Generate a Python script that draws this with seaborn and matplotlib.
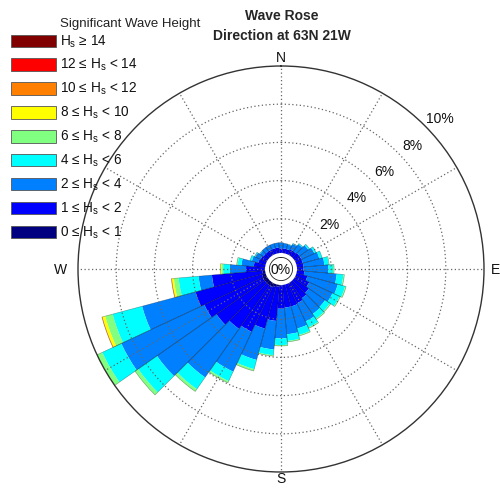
import numpy as np
import pandas as pd
import matplotlib
matplotlib.use("Agg")
import matplotlib.pyplot as plt
from matplotlib.patches import Rectangle, Circle
import seaborn as sns

# ---------------- data (percent of time, per direction bin) ----------------
directions = list(range(0, 360, 10))
freq_0_1 = [.05, .05, .05, .05, .05, .05, .05, .05, .05, .05, .05, .05,
            .08, .10, .12, .15, .15, .18, .22, .30, .35, .40, .42, .42,
            .42, .40, .35, .25, .12, .08, .05, .05, .05, .05, .05, .05]
freq_1_2 = [.40, .40, .40, .45, .45, .50, .50, .50, .50, .50, .55, .75,
            .92, 1.05, 1.13, 1.20, 1.25, 1.22, 1.23, 1.80, 2.25, 2.60, 2.78, 3.08,
            3.38, 3.60, 2.65, .95, .68, .52, .50, .45, .45, .45, .45, .45]
freq_2_4 = [.30, .27, .25, .32, .45, .57, .75, .90, 1.10, 1.30, 1.70, 1.65,
            1.35, 1.05, 1.00, 1.05, 1.20, 1.40, 1.55, 1.50, 1.70, 2.30, 3.10, 3.80,
            4.80, 2.90, .70, .85, .65, .35, .30, .22, .25, .25, .25, .25]
freq_4_6 = [0, 0, .02, .03, .05, .08, .10, .15, .23, .25, .35, .40,
            .40, .30, .30, .35, .35, .35, .35, .30, .50, .55, .75, 1.20,
            1.10, 1.60, 1.05, .35, .20, .10, .05, .03, 0, 0, 0, 0]
freq_6_8 = [0, 0, 0, 0, 0, 0, 0, 0, .02, .05, .05, .05,
            .05, .05, .05, .05, .05, .05, .05, .05, .10, .10, .15, .20,
            .30, .40, .25, .10, .05, 0, 0, 0, 0, 0, 0, 0]
freq_8_10 = [0, 0, 0, 0, 0, 0, 0, 0, 0, 0, 0, 0,
             0, 0, 0, 0, 0, 0, 0, 0, 0, 0, 0, 0,
             .10, .15, .10, .05, 0, 0, 0, 0, 0, 0, 0, 0]
freq_10_12 = [0] * 24 + [.03, .03, .03] + [0] * 9
freq_12_14 = [0] * 36
freq_14_up = [0] * 36

band_labels = [r"0 ≤ $\mathrm{H}_\mathrm{s}$ < 1", r"1 ≤ $\mathrm{H}_\mathrm{s}$ < 2",
               r"2 ≤ $\mathrm{H}_\mathrm{s}$ < 4", r"4 ≤ $\mathrm{H}_\mathrm{s}$ < 6",
               r"6 ≤ $\mathrm{H}_\mathrm{s}$ < 8", r"8 ≤ $\mathrm{H}_\mathrm{s}$ < 10",
               r"10 ≤ $\mathrm{H}_\mathrm{s}$ < 12", r"12 ≤ $\mathrm{H}_\mathrm{s}$ < 14",
               r"$\mathrm{H}_\mathrm{s}$ ≥ 14"]
band_colors = ["#000080", "#0000ff", "#0080ff", "#00ffff", "#80ff80",
               "#ffff00", "#ff8000", "#ff0000", "#800000"]
ring_values = [2, 4, 6, 8, 10]
compass_labels = ["N", "E", "S", "W"]
compass_angles = [0, 90, 180, 270]

df = pd.DataFrame({"direction": directions,
                   "0-1": freq_0_1, "1-2": freq_1_2, "2-4": freq_2_4,
                   "4-6": freq_4_6, "6-8": freq_6_8, "8-10": freq_8_10,
                   "10-12": freq_10_12, "12-14": freq_12_14, ">=14": freq_14_up})
bands = ["0-1", "1-2", "2-4", "4-6", "6-8", "8-10", "10-12", "12-14", ">=14"]

# ---------------- style ----------------
sns.set_theme(style="white")
plt.rcParams["font.family"] = ["Liberation Sans", "DejaVu Sans"]
plt.rcParams["mathtext.fontset"] = "custom"
plt.rcParams["mathtext.rm"] = "Liberation Sans"
plt.rcParams["mathtext.it"] = "Liberation Sans:italic"

W, H = 500, 489
fig = plt.figure(figsize=(W / 100, H / 100), dpi=100)
fig.patch.set_facecolor("white")

cx, cy, R = 281, 270, 203
ax = fig.add_axes([(cx - R) / W, (H - cy - R) / H, 2 * R / W, 2 * R / H],
                  projection="polar")
ax.set_facecolor("white")
ax.set_theta_zero_location("N")
ax.set_theta_direction(-1)

theta = np.deg2rad(df["direction"].to_numpy())
width = np.deg2rad(10)
bottom = np.zeros(len(df))
for band, color in zip(bands, band_colors):
    vals = df[band].to_numpy(dtype=float)
    m = vals > 0
    if m.any():
        ax.bar(theta[m], vals[m], width=width, bottom=bottom[m], color=color,
               edgecolor="none", linewidth=0, align="center", zorder=1)
    bottom += vals
# thin outline of each direction wedge
ax.bar(theta, bottom, width=width, bottom=0, facecolor="none",
       edgecolor=(0, 0, 0, 0.35), linewidth=0.45, align="center", zorder=1.2)

ax.set_ylim(0, 10)
ax.set_rorigin(-0.63)
ax.set_rgrids([2, 4, 6, 8], labels=["", "", "", ""])
ax.set_thetagrids(list(range(0, 360, 30)), labels=[""] * 12)
ax.grid(True, color="#666666", linestyle=(0, (1, 2)), linewidth=0.9)
ax.set_axisbelow(False)
ax.tick_params(pad=0, length=0)
ax.spines["polar"].set_color("#333333")
ax.spines["polar"].set_linewidth(1.0)
for s in ("inner", "start", "end"):
    if s in ax.spines:
        ax.spines[s].set_visible(False)

# white centre disc with 0% label
ax.add_artist(Circle((0.5, 0.5), 16 / (2 * R), transform=ax.transAxes,
                     facecolor="white", edgecolor="none", zorder=3))
ax.text(0.5, 0.5, "0%", transform=ax.transAxes, ha="center", va="center",
        fontsize=10, color="#111111", zorder=4)

# ring labels
for v in ring_values:
    ax.text(np.deg2rad(46.5), v + 0.83, f"{v}%", ha="center", va="center",
            fontsize=10, color="#111111", clip_on=False)

# compass labels
offsets = {"N": 0.47, "E": 0.62, "S": 0.33, "W": 0.94}
for lab, ang in zip(compass_labels, compass_angles):
    ax.text(np.deg2rad(ang), 10 + offsets[lab], lab, ha="center", va="center",
            fontsize=10, color="#111111", clip_on=False)

# titles
fig.text(282 / W, 1 - 16 / H, "Wave Rose", ha="center", va="center",
         fontsize=10, fontweight="bold")
fig.text(282 / W, 1 - 36.5 / H, "Direction at 63N 21W", ha="center", va="center",
         fontsize=10, fontweight="bold")

# legend
fig.text(60.5 / W, 1 - 27.5 / H, "Significant Wave Height", ha="left",
         va="baseline", fontsize=9.5, color="#222222")
for i, (lab, col) in enumerate(zip(band_labels[::-1], band_colors[::-1])):
    yc = 41.7 + 23.9 * i
    fig.add_artist(Rectangle((11 / W, 1 - (yc + 6.2) / H), 45 / W, 12.4 / H,
                             transform=fig.transFigure, facecolor=col,
                             edgecolor="#555555", linewidth=0.6))
    fig.text(60.5 / W, 1 - (yc + 3.5) / H, lab, ha="left", va="baseline",
             fontsize=9.8, color="#111111")

fig.savefig("out.png", dpi=100, facecolor="white")
